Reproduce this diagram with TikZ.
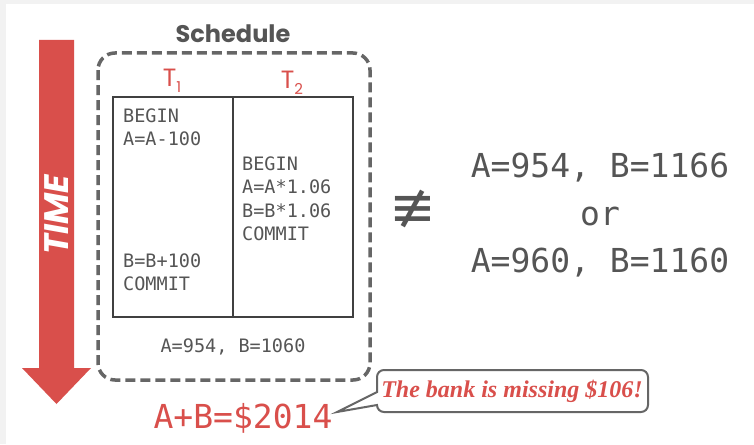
\documentclass[tikz,border=0pt]{standalone}
\usepackage{fontspec}
\setmonofont{DejaVu Sans Mono}
\newfontfamily\headfont{Poppins}
\newfontfamily\notefont{Liberation Serif}
\newfontfamily\symfont{DejaVu Sans}
\definecolor{slidered}{HTML}{D94F4B}
\definecolor{textgray}{HTML}{555555}
\definecolor{boxgray}{HTML}{666666}

\begin{document}
\begin{tikzpicture}[x=1pt, y=-1pt,
  op/.style={font=\fontsize{18.5}{24}\selectfont\ttfamily, text=textgray, anchor=base west, inner sep=0pt},
  result/.style={font=\fontsize{33}{40}\selectfont\ttfamily, text=textgray, anchor=base, inner sep=0pt},
  txn/.style={font=\fontsize{25}{28}\selectfont\headfont, text=slidered, anchor=base, inner sep=0pt}]
  % page
  \fill[black!5] (0,0) rectangle (754,444);
  \fill[white] (6,4) rectangle (754,444);
  \useasboundingbox (0,0) rectangle (754,444);

  % time arrow
  \fill[slidered] (39,40) -- (74,40) -- (74,368) -- (91,368) -- (56.5,404) -- (22,368) -- (39,368) -- cycle;
  \node[rotate=90, text=white, font=\fontsize{34}{34}\selectfont\headfont\bfseries\itshape] (time) at (57,215) {TIME};

  % schedule box
  \node[anchor=base, text=textgray, font=\fontsize{24}{28}\selectfont\headfont\bfseries] (sched) at (233,43) {Schedule};
  \draw[boxgray, line width=3.5pt, dash pattern=on 10pt off 5pt, rounded corners=17] (98,53) rectangle (370,380);
  \node[txn] (t1) at (172,86) {T\raisebox{-6pt}{\fontsize{15}{15}\selectfont 1}};
  \node[txn] (t2) at (292,88) {T\raisebox{-6pt}{\fontsize{15}{15}\selectfont 2}};
  \draw[black!75, line width=1.1pt] (113,97) rectangle (353,317);
  \draw[black!75, line width=1.1pt] (233,97) -- (233,317);

  % operations
  \foreach \op [count=\i] in {BEGIN, A=A-100}
    \node[op] (ta\i) at (123,98.5+23.5*\i) {\op};
  \foreach \op [count=\i] in {B=B+100, COMMIT}
    \node[op] (tb\i) at (123,243.5+23.5*\i) {\op};
  \foreach \op [count=\i] in {BEGIN, A=A*1.06, B=B*1.06, COMMIT}
    \node[op] (tc\i) at (242,146.5+23.5*\i) {\op};
  \node[op, anchor=base] (final) at (233,352) {A=954, B=1060};

  % serial outcomes
  \node[text=textgray, font=\fontsize{56}{56}\selectfont\symfont] (neq) at (413,209) {≢};
  \node[result] (r1) at (600,177) {A=954, B=1166};
  \node[result] (ror) at (600,225) {or};
  \node[result] (r2) at (600,272) {A=960, B=1160};

  % sum and note
  \node[result, text=slidered] (sum) at (243,428) {A+B=\$2014};
  \coordinate (tip) at (337,412);
  \draw[boxgray, line width=2pt, fill=white] (377,392) [rounded corners=7] -- (377,370) -- (648,370) -- (648,412) -- (377,412) [sharp corners] -- (377,405) -- (tip) -- cycle;
  \node[text=slidered, font=\fontsize{24}{27}\selectfont\notefont\bfseries\itshape] (bank) at (512,391) {The bank is missing \$106!};
\end{tikzpicture}
\end{document}
